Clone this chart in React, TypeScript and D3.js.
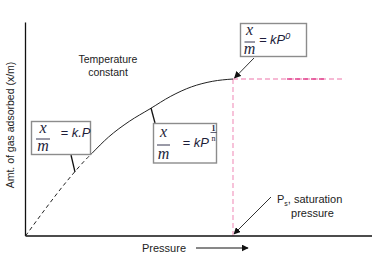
import React from "react";
import * as d3 from "d3";

// Isotherm curve (normalized pressure, normalized x/m)
const pressure = [0, 0.1, 0.2, 0.3, 0.4, 0.5, 0.6, 0.7, 0.8, 0.9, 1.0];
const adsorbed = [0, 0.18, 0.35, 0.5, 0.63, 0.73, 0.81, 0.89, 0.95, 0.985, 1.0];
const dashedUntil = 0.32; // linear low-pressure region drawn dashed
const saturationP = 1.0;
const plateauEnd = 1.54;
const plateauDarkFrom = 1.26;
const plateauDarkTo = 1.44;

const W = 373;
const H = 257;

export default function App() {
  const x = d3.scaleLinear().domain([0, 1]).range([25.5, 233]);
  const y = d3.scaleLinear().domain([0, 1]).range([236, 79]);
  const pts = pressure.map((p, i) => [p, adsorbed[i]] as [number, number]);
  const line = d3
    .line<[number, number]>()
    .x((d) => x(d[0]))
    .y((d) => y(d[1]))
    .curve(d3.curveMonotoneX);
  const split = 0.5 + (dashedUntil - 0.3) * 1.3;
  const dashedPts = [...pts.filter((d) => d[0] < dashedUntil), [dashedUntil, split] as [number, number]];
  const solidPts = [[dashedUntil, split] as [number, number], ...pts.filter((d) => d[0] > dashedUntil)];

  const serif = "'Liberation Serif','Times New Roman',serif";
  const sans = "'Liberation Sans',Arial,sans-serif";
  const ink = "#1e1e3a";
  const boxStroke = "#8c8c8c";
  const pink = "#f3a3c6";
  const pinkDark = "#e2438f";

  return (
    <svg
      width={W}
      height={H}
      style={{ position: "absolute", left: 0, top: 0 }}
      viewBox={`0 0 ${W} ${H}`}
    >
      <defs>
        <marker
          id="ah"
          viewBox="0 0 10 10"
          refX="9"
          refY="5"
          markerWidth="7"
          markerHeight="7"
          markerUnits="userSpaceOnUse"
          orient="auto"
        >
          <path d="M0,0 L10,5 L0,10 z" fill="#111" />
        </marker>
      </defs>
      <rect x={0} y={0} width={W} height={H} fill="#fff" />

      {/* saturation guides */}
      <line
        x1={x(saturationP)}
        x2={x(saturationP)}
        y1={y(1)}
        y2={y(0)}
        stroke={pink}
        strokeWidth={1.3}
        strokeDasharray="5,3"
      />
      <line
        x1={x(saturationP)}
        x2={x(plateauEnd)}
        y1={y(1)}
        y2={y(1)}
        stroke={pink}
        strokeWidth={1.3}
        strokeDasharray="5,3"
      />
      <line
        x1={x(plateauDarkFrom)}
        x2={x(plateauDarkTo)}
        y1={y(1)}
        y2={y(1)}
        stroke={pinkDark}
        strokeWidth={1.3}
        strokeDasharray="5,3"
      />

      {/* axes */}
      <line x1={x(0)} x2={x(0)} y1={y(1.36)} y2={y(0)} stroke="#111" strokeWidth={1.3} />
      <line x1={x(0)} x2={x(1.67)} y1={y(0)} y2={y(0)} stroke="#111" strokeWidth={1.3} />

      {/* curve */}
      <path
        d={line(dashedPts) || ""}
        fill="none"
        stroke="#222"
        strokeWidth={1}
        strokeDasharray="4,3"
      />
      <path d={line(solidPts) || ""} fill="none" stroke="#222" strokeWidth={1} />

      {/* pointer lines */}
      <line x1={71} y1={155} x2={75} y2={172} stroke="#111" strokeWidth={1.3} />
      <line x1={151} y1={108} x2={155} y2={123} stroke="#111" strokeWidth={1.3} />
      <line
        x1={254}
        y1={58}
        x2={x(saturationP) + 1.5}
        y2={y(1) - 1}
        stroke="#333"
        strokeWidth={1}
        markerEnd="url(#ah)"
      />
      <line
        x1={271}
        y1={197}
        x2={x(saturationP) + 1}
        y2={y(0) - 2}
        stroke="#333"
        strokeWidth={1}
        markerEnd="url(#ah)"
      />

      {/* Box 1: x/m = k.P */}
      <rect x={31.5} y={121.5} width={59} height={33} fill="#fff" stroke={boxStroke} strokeWidth={1.4} />
      <text x={43} y={133} fontFamily={serif} fontStyle="italic" fontSize={16} fill={ink} textAnchor="middle">x</text>
      <line x1={36} x2={50} y1={139} y2={139} stroke={ink} strokeWidth={0.9} />
      <text x={43} y={151} fontFamily={serif} fontStyle="italic" fontSize={16} fill={ink} textAnchor="middle">m</text>
      <text x={60.5} y={137} fontFamily={sans} fontStyle="italic" fontSize={13} fill={ink}>= k.P</text>

      {/* Box 2: x/m = kP^(1/n) */}
      <rect x={153.5} y={123.5} width={63} height={39.5} fill="#fff" stroke={boxStroke} strokeWidth={1.4} />
      <text x={163.5} y={137} fontFamily={serif} fontStyle="italic" fontSize={16} fill={ink} textAnchor="middle">x</text>
      <line x1={157} x2={170} y1={145} y2={145} stroke={ink} strokeWidth={0.9} />
      <text x={163.5} y={159} fontFamily={serif} fontStyle="italic" fontSize={16} fill={ink} textAnchor="middle">m</text>
      <text x={182.5} y={147} fontFamily={sans} fontStyle="italic" fontSize={13} fill={ink}>= kP</text>
      <text x={213.5} y={130.5} fontFamily={serif} fontWeight="bold" fontSize={8} fill={ink} textAnchor="middle">1</text>
      <line x1={210.5} x2={216.5} y1={132.5} y2={132.5} stroke={ink} strokeWidth={0.7} />
      <text x={213.5} y={140.5} fontFamily={serif} fontSize={8} fill={ink} textAnchor="middle">n</text>

      {/* Box 3: x/m = kP^0 */}
      <rect x={240.5} y={23.5} width={66} height={33} fill="#fff" stroke={boxStroke} strokeWidth={1.4} />
      <text x={249.5} y={35} fontFamily={serif} fontStyle="italic" fontSize={16} fill={ink} textAnchor="middle">x</text>
      <line x1={244.5} x2={255} y1={42} y2={42} stroke={ink} strokeWidth={0.9} />
      <text x={249.5} y={54} fontFamily={serif} fontStyle="italic" fontSize={16} fill={ink} textAnchor="middle">m</text>
      <text x={259} y={44} fontFamily={sans} fontStyle="italic" fontSize={13} fill={ink}>
        =<tspan dx={3.5}>kP</tspan>
        <tspan fontSize={9} dy={-5}>0</tspan>
      </text>

      {/* annotations */}
      <text x={108} y={63} fontFamily={sans} fontSize={10.5} fill="#222" textAnchor="middle">Temperature</text>
      <text x={108} y={76} fontFamily={sans} fontSize={10.5} fill="#222" textAnchor="middle">constant</text>

      <text x={277} y={203} fontFamily={sans} fontSize={11} fill="#222">
        P<tspan fontSize={7} dy={2.5}>s</tspan>
        <tspan dy={-2.5}>, saturation</tspan>
      </text>
      <text x={312.5} y={217} fontFamily={sans} fontSize={11} fill="#222" textAnchor="middle">pressure</text>

      <text
        transform="translate(14,125) rotate(-90)"
        fontFamily={sans}
        fontSize={10.5}
        fill="#222"
        textAnchor="middle"
      >
        Amt. of gas adsorbed (x/m)
      </text>

      <text x={142} y={252} fontFamily={sans} fontSize={11} fill="#222">Pressure</text>
      <line x1={196} y1={248} x2={248} y2={248} stroke="#111" strokeWidth={1} markerEnd="url(#ah)" />
    </svg>
  );
}
